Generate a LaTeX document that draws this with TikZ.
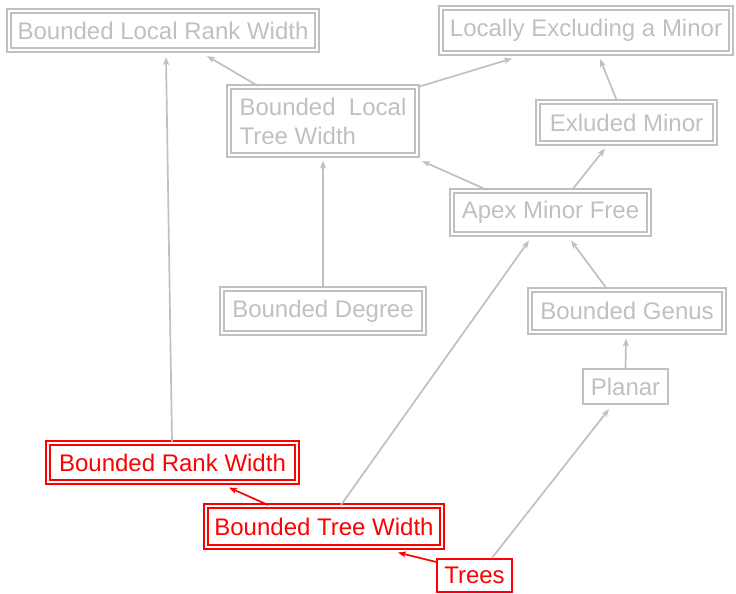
\documentclass[tikz,border=0pt]{standalone}
\usepackage{fontspec}
\setmainfont{Liberation Sans}
\usetikzlibrary{arrows.meta}
\definecolor{lg}{RGB}{192,192,192}
\definecolor{rd}{RGB}{255,0,0}
\tikzset{
  dbox/.style={draw=#1, text=#1, double=white, double distance=2.3pt, line width=1.7pt,
    inner sep=0pt, font=\fontsize{24}{29}\selectfont},
  sbox/.style={draw=#1, text=#1, line width=1.8pt, inner sep=0pt, font=\fontsize{24}{29}\selectfont},
  conn/.style={draw=#1, line width=1.7pt, -{Stealth[length=8pt,width=6pt,inset=2pt]}},
}
\begin{document}
\begin{tikzpicture}[x=1pt,y=-1pt]
\useasboundingbox (0,0) rectangle (736,594);
\node[dbox=lg, minimum width=308.4pt, minimum height=39.4pt] (blrw) at (163,30.5) {Bounded Local Rank Width};
\node[dbox=lg, minimum width=290.4pt, minimum height=45.4pt] (lem) at (586,30.5) {Locally Excluding a Minor};
\node[dbox=lg, minimum width=188.4pt, minimum height=68.4pt, align=left] (bltw) at (323,121) {Bounded\ \ Local\\Tree Width};
\node[dbox=lg, minimum width=177.4pt, minimum height=41.4pt] (exm) at (626.5,122.5) {Exluded Minor};
\node[dbox=lg, minimum width=197.4pt, minimum height=43.4pt] (amf) at (550.5,212.5) {Apex Minor Free};
\node[dbox=lg, minimum width=202.4pt, minimum height=44.4pt] (bdeg) at (323,311) {Bounded Degree};
\node[dbox=lg, minimum width=194.4pt, minimum height=42.4pt] (bgen) at (627,311) {Bounded Genus};
\node[sbox=lg, minimum width=85.4pt, minimum height=35.4pt] (planar) at (625.5,386.5) {Planar};
\node[dbox=rd, minimum width=249.4pt, minimum height=39.4pt] (brw) at (172.5,462.5) {Bounded Rank Width};
\node[dbox=rd, minimum width=236.4pt, minimum height=41.4pt] (btw) at (324,526.5) {Bounded Tree Width};
\node[sbox=rd, minimum width=75.4pt, minimum height=33.4pt] (trees) at (474.5,575.5) {Trees};

\draw[conn=lg] ([xshift=-0.5pt]brw.north) -- ([xshift=3pt,yshift=-6pt]blrw.south);
\draw[conn=lg] ([xshift=-65pt]bltw.north) -- ([xshift=44pt,yshift=-5pt]blrw.south);
\draw[conn=lg] ([yshift=-1pt]bltw.north east) -- ([xshift=-74pt,yshift=-4.5pt]lem.south);
\draw[conn=lg] (bdeg.north) -- ([yshift=-4.5pt]bltw.south);
\draw[conn=lg] ([xshift=-63.5pt]amf.north) -- ([xshift=4pt,yshift=-5pt]bltw.south east);
\draw[conn=lg] ([xshift=21.5pt]amf.north) -- ([xshift=-21.5pt,yshift=-4.5pt]exm.south);
\draw[conn=lg] ([xshift=-9.5pt]exm.north) -- ([xshift=14pt,yshift=-5pt]lem.south);
\draw[conn=lg] ([xshift=-20pt]bgen.north) -- ([xshift=20.5pt,yshift=-5.5pt]amf.south);
\draw[conn=lg] (planar.north) -- ([xshift=-1pt,yshift=-5.5pt]bgen.south);
\draw[conn=lg] ([xshift=17pt]btw.north) -- ([xshift=-21.5pt,yshift=-5.5pt]amf.south);
\draw[conn=lg] ([xshift=17.5pt]trees.north) -- ([xshift=-16.5pt,yshift=-4pt]planar.south);
\draw[conn=rd] ([xshift=-56pt]btw.north) -- ([xshift=56.5pt,yshift=-4.5pt]brw.south);
\draw[conn=rd] ([yshift=-4pt]trees.north west) -- ([xshift=74pt,yshift=-4.5pt]btw.south);
\end{tikzpicture}
\end{document}
